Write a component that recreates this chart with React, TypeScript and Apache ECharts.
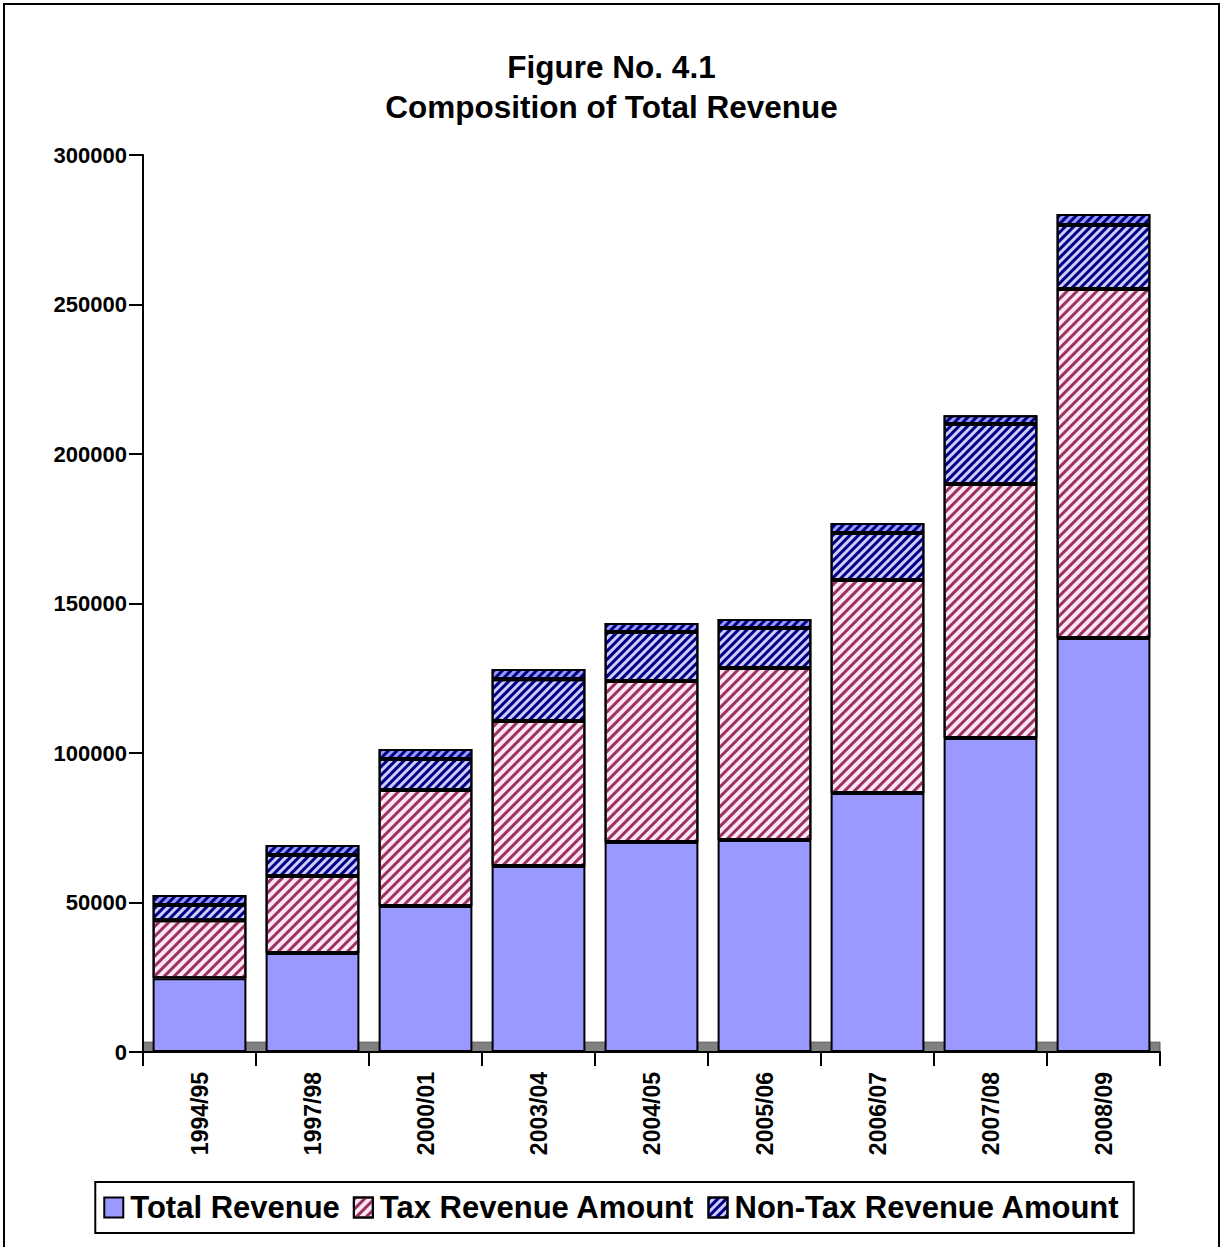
import React, { useEffect, useRef } from "react";
import * as echarts from "echarts";

const categories = ["1994/95", "1997/98", "2000/01", "2003/04", "2004/05", "2005/06", "2006/07", "2007/08", "2008/09"];
const totalRevenue = [24700, 33100, 48800, 62200, 70200, 70900, 86600, 105000, 138500];
const taxRevenue = [19400, 25800, 38800, 48500, 53900, 57500, 71300, 85000, 116700];
const nonTaxRevenue = [5100, 7000, 10400, 14000, 16400, 13400, 15700, 20000, 21400];
const otherTop = [3300, 3300, 3300, 3400, 3000, 3000, 3300, 3000, 3700];
const yTicks = [0, 50000, 100000, 150000, 200000, 250000, 300000];

const FONT = "Liberation Sans, Arial, sans-serif";

export default function App() {
  const ref = useRef<HTMLDivElement>(null);
  useEffect(() => {
    if (!ref.current) return;
    const chart = echarts.init(ref.current, undefined, { renderer: "svg" });
    const taxDecal = {
      symbol: "rect",
      symbolSize: 1,
      dashArrayX: [1, 0],
      dashArrayY: [3, 4],
      rotation: -Math.PI / 4,
      color: "#993366",
    };
    const nonTaxDecal = {
      symbol: "rect",
      symbolSize: 1,
      dashArrayX: [1, 0],
      dashArrayY: [3, 3],
      rotation: -Math.PI / 4,
      color: "#000080",
    };
    const itemBorder = { borderColor: "#000", borderWidth: 2 };
    chart.setOption({
      animation: false,
      backgroundColor: "#fff",
      title: {
        text: "Figure No. 4.1\nComposition of Total Revenue",
        left: "center",
        top: 42,
        textStyle: { fontFamily: FONT, fontWeight: "bold", fontSize: 31.5, lineHeight: 40, color: "#000" },
      },
      graphic: [
        {
          type: "rect",
          shape: { x: 4, y: 4, width: 1215, height: 1260 },
          style: { fill: "none", stroke: "#000", lineWidth: 2 },
          silent: true,
        },
      ],
      legend: {
        bottom: 14,
        left: "center",
        data: ["Total Revenue", "Tax Revenue Amount", "Non-Tax Revenue Amount"],
        icon: "rect",
        itemWidth: 19,
        itemHeight: 20,
        itemGap: 13,
        padding: [10, 14, 10, 8],
        borderColor: "#000",
        borderWidth: 2,
        textStyle: { fontFamily: FONT, fontWeight: "bold", fontSize: 31, color: "#000", padding: [0, 0, 0, 2] },
      },
      grid: { left: 143, right: 63, top: 155, bottom: 195, containLabel: false },
      xAxis: {
        type: "category",
        data: categories,
        axisLine: { lineStyle: { color: "#000", width: 2 } },
        axisTick: { show: true, length: 14, lineStyle: { color: "#000", width: 2 } },
        axisLabel: {
          rotate: 90,
          fontFamily: FONT,
          fontWeight: "bold",
          fontSize: 23,
          color: "#000",
          margin: 20,
        },
      },
      yAxis: {
        type: "value",
        min: 0,
        max: 300000,
        interval: 50000,
        splitLine: { show: false },
        axisLine: { show: true, lineStyle: { color: "#000", width: 2 } },
        axisTick: { show: true, length: 14, inside: false, lineStyle: { color: "#000", width: 2 } },
        axisLabel: {
          fontFamily: FONT,
          fontWeight: "bold",
          fontSize: 22,
          color: "#000",
          margin: 16,
          formatter: (v: number) => (yTicks.includes(v) ? String(v) : ""),
        },
      },
      series: [
        {
          name: "Total Revenue",
          type: "bar",
          stack: "rev",
          barCategoryGap: "17%",
          data: totalRevenue,
          itemStyle: { color: "#9999ff", ...itemBorder },
          markArea: {
            silent: true,
            z: 0,
            itemStyle: { color: "#808080", borderColor: "#555", borderWidth: 1 },
            data: [[{ yAxis: 0 }, { yAxis: 3300 }]],
          },
        },
        {
          name: "Tax Revenue Amount",
          type: "bar",
          stack: "rev",
          data: taxRevenue,
          itemStyle: { color: "#ffe6f0", decal: taxDecal, ...itemBorder },
        },
        {
          name: "Non-Tax Revenue Amount",
          type: "bar",
          stack: "rev",
          data: nonTaxRevenue,
          itemStyle: { color: "#ccccff", decal: nonTaxDecal, ...itemBorder },
        },
        {
          name: "Other",
          type: "bar",
          stack: "rev",
          data: otherTop,
          itemStyle: { color: "#9999ff", decal: nonTaxDecal, ...itemBorder },
        },
      ],
    });
    return () => chart.dispose();
  }, []);
  return (
    <div
      ref={ref}
      style={{ position: "absolute", left: 0, top: 0, width: 1223, height: 1247 }}
    />
  );
}
